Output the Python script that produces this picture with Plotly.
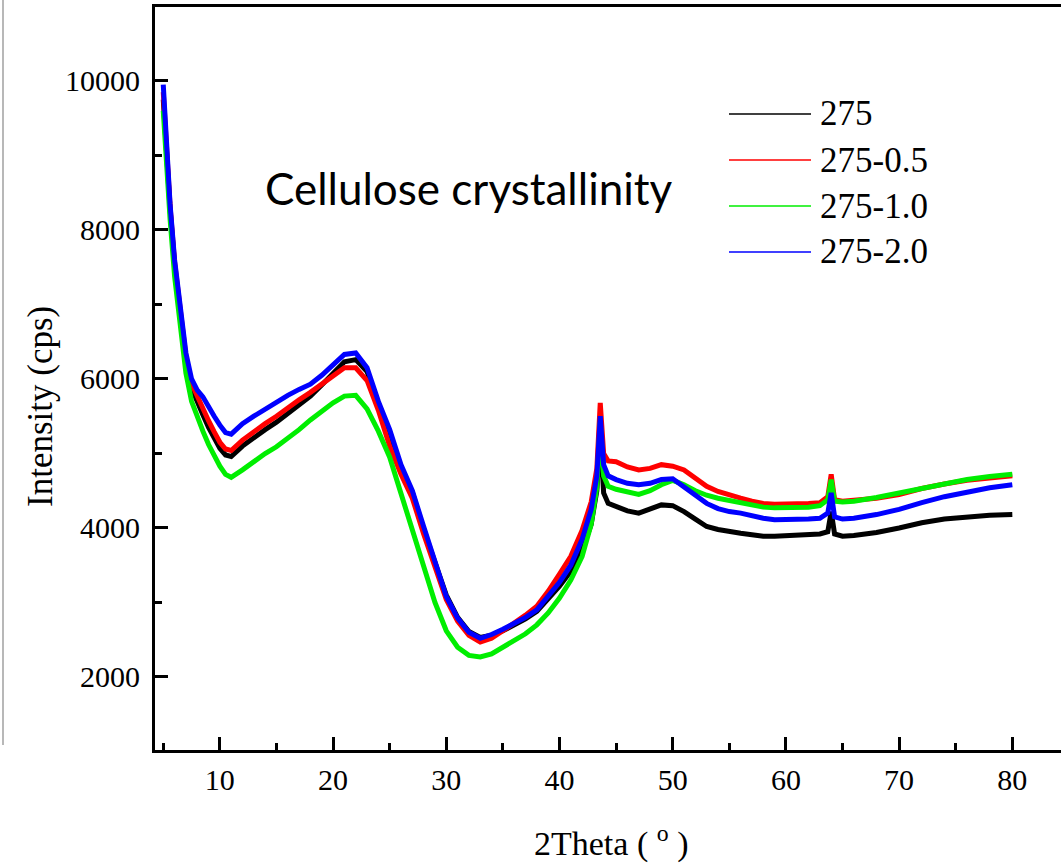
import plotly.graph_objects as go

# ---------------- data ----------------
two_theta = [5.0, 5.3, 5.6, 6.0, 6.5, 7.0, 7.5, 8.0, 8.5, 9.0, 9.5, 10.0, 10.5, 11.0,
             12.0, 13.0, 14.0, 15.0, 16.0, 17.0, 18.0, 19.0, 20.0, 21.0, 22.0, 23.0,
             24.0, 25.0, 26.0, 27.0, 28.0, 29.0, 30.0, 31.0, 32.0, 33.0, 34.0, 35.0,
             36.0, 37.0, 38.0, 39.0, 40.0, 41.0, 42.0, 42.8, 43.3, 43.6, 43.9, 44.3,
             45.0, 46.0, 47.0, 48.0, 49.0, 50.0, 51.0, 52.0, 53.0, 54.0, 55.0, 56.0,
             57.0, 58.0, 59.0, 60.0, 61.0, 62.0, 63.0, 63.7, 64.0, 64.3, 65.0, 66.0,
             68.0, 70.0, 72.0, 74.0, 76.0, 78.0, 80.0]

s275 = [9750, 9000, 8280, 7530, 6870, 6250, 5880, 5680, 5520, 5350, 5200, 5070, 4980, 4960,
        5100, 5220, 5320, 5420, 5540, 5660, 5770, 5920, 6080, 6230, 6260, 6100,
        5680, 5250, 4800, 4480, 3980, 3540, 3100, 2800, 2610, 2530, 2560, 2620,
        2700, 2780, 2880, 3050, 3220, 3420, 3700, 4050, 4500, 5280, 4470, 4330,
        4290, 4230, 4200, 4250, 4310, 4300, 4220, 4120, 4020, 3980, 3950, 3930,
        3910, 3890, 3890, 3900, 3910, 3910, 3920, 3950, 4220, 3920, 3890, 3900,
        3940, 4000, 4070, 4120, 4150, 4170, 4180]

s275_05 = [9850, 9050, 8320, 7570, 6920, 6300, 5940, 5760, 5610, 5440, 5290, 5150, 5060, 5040,
           5180, 5300, 5400, 5500, 5620, 5720, 5820, 5930, 6050, 6150, 6150, 5980,
           5580, 5100, 4720, 4400, 3920, 3480, 3040, 2750, 2560, 2470, 2520, 2620,
           2720, 2830, 2950, 3150, 3380, 3620, 3970, 4350, 4800, 5680, 5000, 4900,
           4890, 4820, 4780, 4800, 4850, 4830, 4780, 4660, 4560, 4490, 4440, 4400,
           4360, 4330, 4320, 4320, 4320, 4330, 4340, 4420, 4720, 4380, 4360, 4370,
           4400, 4450, 4530, 4590, 4640, 4670, 4700]

s275_10 = [9600, 8850, 8150, 7380, 6700, 6080, 5700, 5480, 5300, 5120, 4960, 4830, 4720, 4680,
           4780, 4900, 5000, 5090, 5200, 5320, 5450, 5570, 5680, 5770, 5780, 5600,
           5300, 4950, 4450, 4000, 3480, 3000, 2620, 2400, 2290, 2270, 2310, 2400,
           2480, 2580, 2700, 2860, 3060, 3300, 3620, 4050, 4550, 5420, 4700, 4560,
           4520, 4480, 4450, 4500, 4580, 4640, 4580, 4500, 4440, 4400, 4370, 4340,
           4310, 4280, 4270, 4270, 4270, 4280, 4300, 4380, 4650, 4360, 4350, 4360,
           4410, 4470, 4540, 4600, 4650, 4690, 4720]

s275_20 = [9950, 9100, 8350, 7600, 6950, 6350, 6000, 5850, 5760, 5620, 5500, 5380, 5280, 5260,
           5400, 5500, 5600, 5680, 5780, 5860, 5930, 6050, 6200, 6330, 6350, 6150,
           5700, 5320, 4850, 4500, 4020, 3550, 3080, 2790, 2600, 2520, 2570, 2640,
           2720, 2800, 2900, 3080, 3270, 3500, 3850, 4250, 4700, 5500, 4850, 4700,
           4650, 4600, 4580, 4600, 4650, 4660, 4550, 4420, 4330, 4260, 4220, 4200,
           4160, 4130, 4110, 4110, 4110, 4120, 4130, 4200, 4470, 4150, 4120, 4130,
           4180, 4250, 4340, 4420, 4480, 4540, 4580]

series_names = ["275", "275-0.5", "275-1.0", "275-2.0"]
series_values = [s275, s275_05, s275_10, s275_20]
series_colors = ["#000000", "#ff0000", "#00ee00", "#0000ff"]

x_ticks = [10, 20, 30, 40, 50, 60, 70, 80]
y_ticks = [2000, 4000, 6000, 8000, 10000]
y_tick_text = ["2000", "4000", "6000", "8000", "10000"]

# ---------------- figure ----------------
W, H = 1061, 865
ML, MR, MT, MB = 155, 0, 7, 115
PW, PH = W - ML - MR, H - MT - MB

def px(xp):
    return (xp - ML) / PW

def py(yp):
    return (H - MB - yp) / PH

fig = go.Figure()
for name, vals, col in zip(series_names, series_values, series_colors):
    fig.add_trace(go.Scatter(x=two_theta, y=vals, mode="lines", name=name,
                             line=dict(color=col, width=5), showlegend=False))

serif = "Liberation Serif, Times New Roman, serif"

fig.update_layout(
    width=W, height=H,
    margin=dict(l=ML, r=MR, t=MT, b=MB, pad=0),
    paper_bgcolor="white", plot_bgcolor="white",
    font=dict(family=serif, color="black", size=30),
    xaxis=dict(range=[4.27, 84.3], tickvals=x_ticks, ticks="inside", ticklen=13,
               tickwidth=3, tickcolor="black", showline=True, linewidth=3,
               linecolor="black", mirror=True, showgrid=False, zeroline=False,
               tickfont=dict(family=serif, size=30), ticklabelstandoff=1,
               minor=dict(dtick=5, tick0=0, ticks="inside", ticklen=7,
                          tickwidth=3, tickcolor="black", showgrid=False)),
    yaxis=dict(range=[1020, 10993], tickvals=y_ticks, ticktext=y_tick_text,
               ticks="inside", ticklen=13,
               tickwidth=3, tickcolor="black", showline=True, linewidth=3,
               linecolor="black", mirror=False, showgrid=False, zeroline=False,
               tickfont=dict(family=serif, size=30), ticklabelstandoff=6,
               minor=dict(dtick=1000, tick0=0, ticks="inside", ticklen=7,
                          tickwidth=3, tickcolor="black", showgrid=False)),
)

# manual legend (long line samples as in the reference)
legend_rows_y = [114, 160, 206, 252]
for name, col, yy in zip(series_names, series_colors, legend_rows_y):
    fig.add_shape(type="line", xref="paper", yref="paper",
                  x0=px(729), x1=px(811), y0=py(yy), y1=py(yy),
                  line=dict(color=col, width=1.5))
    fig.add_annotation(xref="paper", yref="paper", x=px(818), y=py(yy),
                       text=name, showarrow=False, xanchor="left", yanchor="middle",
                       font=dict(family=serif, size=35, color="black"))

# inner text label
fig.add_annotation(xref="paper", yref="paper", x=px(263), y=py(188),
                   text="Cellulose crystallinity", showarrow=False,
                   xanchor="left", yanchor="middle",
                   font=dict(family="Lato, Open Sans, sans-serif", size=44, color="black"))

# axis titles
fig.add_annotation(xref="paper", yref="paper", x=px(40), y=py(406),
                   text="Intensity (cps)", showarrow=False, textangle=-90,
                   xanchor="center", yanchor="middle",
                   font=dict(family=serif, size=35, color="black"))
fig.add_annotation(xref="paper", yref="paper", x=px(611), y=py(841),
                   text="2Theta ( <sup>o</sup> )", showarrow=False,
                   xanchor="center", yanchor="middle",
                   font=dict(family=serif, size=34, color="black"))

# faint slide-edge line at far left
fig.add_shape(type="line", xref="paper", yref="paper",
              x0=px(3), x1=px(3), y0=py(745), y1=py(0),
              line=dict(color="#b8b8b8", width=2))

fig.write_html("out.html", config={"displayModeBar": False},
               post_script="document.body.style.margin='0px';")
